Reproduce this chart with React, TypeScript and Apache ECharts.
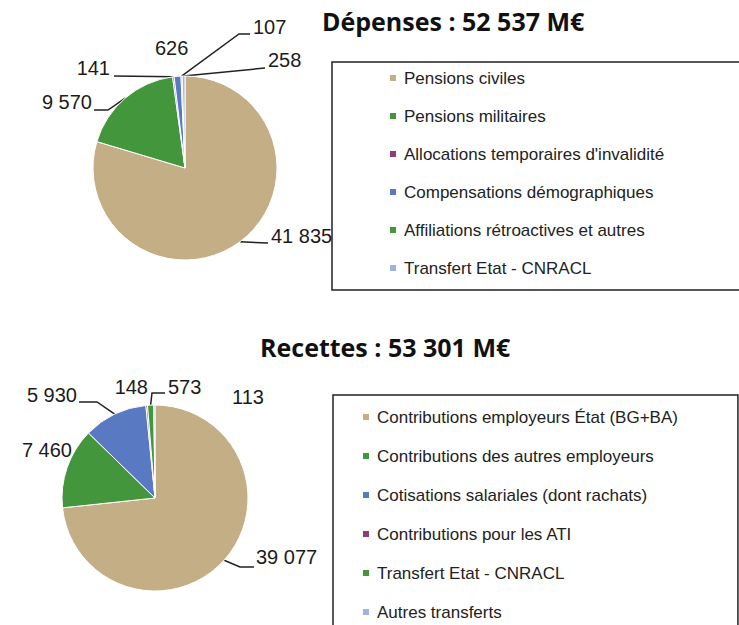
import { useEffect, useRef } from 'react';
import * as echarts from 'echarts';

const depTitle = 'Dépenses : 52 537 M€';
const recTitle = 'Recettes : 53 301 M€';

const depNames = [
  'Pensions civiles',
  'Pensions militaires',
  "Allocations temporaires d'invalidité",
  'Compensations démographiques',
  'Affiliations rétroactives et autres',
  'Transfert Etat - CNRACL',
];
const depValues = [41835, 9570, 141, 626, 107, 258];

const recNames = [
  'Contributions employeurs État (BG+BA)',
  'Contributions des autres employeurs',
  'Cotisations salariales (dont rachats)',
  'Contributions pour les ATI',
  'Transfert Etat - CNRACL',
  'Autres transferts',
];
const recValues = [39077, 7460, 5930, 148, 573, 113];

const BEIGE = '#C4AE85';
const GREEN = '#44963D';
const PURPLE = '#8C3D7C';
const BLUE = '#5A79C3';
const LBLUE = '#A0B3DD';
const depColors = [BEIGE, GREEN, PURPLE, BLUE, GREEN, LBLUE];
const recColors = [BEIGE, GREEN, BLUE, PURPLE, GREEN, LBLUE];

// label placement (layout/style, not data)
type Place = { x: number; y: number; align: 'left' | 'right'; pts: number[][] | null };
const depPlace: Place[] = [
  { x: 271, y: 236, align: 'left', pts: [[268, 243]] },
  { x: 92, y: 102, align: 'right', pts: [[108, 110], [94, 110]] },
  { x: 110, y: 68, align: 'right', pts: [[114, 76]] },
  { x: 155, y: 48, align: 'left', pts: null },
  { x: 253, y: 27, align: 'left', pts: [[239, 34], [250, 34]] },
  { x: 268, y: 60, align: 'left', pts: [[265, 68]] },
];
const recPlace: Place[] = [
  { x: 256, y: 557, align: 'left', pts: [[240, 567], [254, 567]] },
  { x: 72, y: 450, align: 'right', pts: null },
  { x: 77, y: 395, align: 'right', pts: [[97, 402], [79, 402]] },
  { x: 148, y: 387, align: 'right', pts: null },
  { x: 168, y: 387, align: 'left', pts: [[152, 393], [165, 393]] },
  { x: 232, y: 397, align: 'left', pts: null },
];

const FONT = '"Liberation Sans", Arial, sans-serif';
const fmt = (v: number) => String(v).replace(/\B(?=(\d{3})+(?!\d))/g, ' ');

function makeSeries(names: string[], values: number[], colors: string[], center: number[], radius: number, place: Place[]) {
  return {
    type: 'pie',
    center,
    radius,
    startAngle: 90,
    clockwise: true,
    avoidLabelOverlap: false,
    silent: true,
    emphasis: { disabled: true },
    itemStyle: { borderColor: '#fff', borderWidth: 1 },
    data: names.map((n, i) => ({
      name: n,
      value: values[i],
      itemStyle: { color: colors[i] },
      labelLine: { show: !!place[i].pts },
    })),
    label: {
      show: true,
      position: 'outside',
      formatter: (p: any) => fmt(p.value),
      fontSize: 20,
      color: '#1b1b1b',
      fontFamily: FONT,
    },
    labelLine: { show: true, length: 10, length2: 10, smooth: false, lineStyle: { color: '#222', width: 1.5 } },
    labelLayout: (params: any) => {
      const p = place[params.dataIndex];
      const out: any = { x: p.x, y: p.y, align: p.align, verticalAlign: 'middle', hideOverlap: false };
      if (p.pts && params.labelLinePoints) {
        out.labelLinePoints = [params.labelLinePoints[0], ...p.pts];
      }
      return out;
    },
  };
}

function makeLegend(names: string[], colors: string[], left: number, top: number, padding: number[], gap: number) {
  return {
    orient: 'vertical',
    left,
    top,
    width: 600,
    height: 600,
    padding,
    itemGap: gap,
    itemWidth: 8,
    itemHeight: 8,
    icon: 'rect',
    selectedMode: false,
    borderColor: '#222',
    borderWidth: 1.5,
    backgroundColor: '#fff',
    textStyle: { fontSize: 17, color: '#222', lineHeight: 20, fontFamily: FONT, padding: [0, 0, 0, 2] },
    data: names.map((n, i) => ({ name: n, itemStyle: { color: colors[i] } })),
  };
}

export default function App() {
  const ref = useRef<HTMLDivElement>(null);
  useEffect(() => {
    if (!ref.current) return;
    const chart = echarts.init(ref.current, null, { renderer: 'svg' });
    chart.setOption({
      animation: false,
      backgroundColor: '#fff',
      textStyle: { fontFamily: FONT },
      title: [
        {
          text: depTitle,
          left: 322,
          top: 8,
          padding: 0,
          textStyle: { fontFamily: '"Open Sans", sans-serif', fontWeight: 'bold', fontSize: 25, color: '#111' },
        },
        {
          text: recTitle,
          left: 260,
          top: 334,
          padding: 0,
          textStyle: { fontFamily: '"Open Sans", sans-serif', fontWeight: 'bold', fontSize: 25, color: '#111' },
        },
      ],
      legend: [
        makeLegend(depNames, depColors, 332, 62, [6, 100, 12, 56], 18),
        makeLegend(recNames, recColors, 333, 395, [12, 60, 60, 28], 19),
      ],
      series: [
        makeSeries(depNames, depValues, depColors, [185, 168], 92, depPlace),
        makeSeries(recNames, recValues, recColors, [155, 498], 93, recPlace),
      ],
    });
    return () => chart.dispose();
  }, []);
  return <div ref={ref} style={{ position: 'absolute', left: 0, top: 0, width: 739, height: 625 }} />;
}
